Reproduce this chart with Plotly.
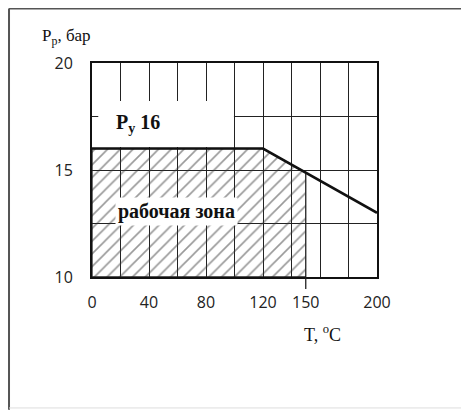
import numpy as np
import plotly.graph_objects as go

# Data
limit_T = [0, 120, 200]          # °C
limit_P = [16, 16, 13]           # bar
work_T_max = 150                 # end of working zone, °C
P_min = 10
x_ticks = [0, 40, 80, 120, 150, 200]
y_ticks = [10, 15, 20]

# Working zone polygon derived from the limit line
P_at_work_max = float(np.interp(work_T_max, limit_T, limit_P))
zone_T = [limit_T[0], limit_T[0], limit_T[1], work_T_max, work_T_max, limit_T[0]]
zone_P = [P_min, limit_P[0], limit_P[1], P_at_work_max, P_min, P_min]

serif = "Liberation Serif"
sans = "Open Sans"
grid_c = "#222222"

fig = go.Figure()
fig.add_trace(go.Scatter(
    x=zone_T, y=zone_P, mode="lines", fill="toself",
    line=dict(color=grid_c, width=1.3),
    fillcolor="rgba(255,255,255,0)",
    fillpattern=dict(shape="/", fgcolor="#333333", bgcolor="rgba(255,255,255,0)",
                     size=9, solidity=0.18),
    hoverinfo="skip", showlegend=False))
fig.add_trace(go.Scatter(
    x=limit_T, y=limit_P, mode="lines",
    line=dict(color="#111111", width=2.5),
    showlegend=False))

fig.update_xaxes(
    range=[0, 200], tickvals=x_ticks, ticktext=[str(v) for v in x_ticks],
    showgrid=False, zeroline=False, ticks="", ticklabelstandoff=10,
    tickfont=dict(family=sans, size=16, color="#222"),
    showline=True, mirror=True, linecolor="#111", linewidth=2,
    minor=dict(tickmode="linear", tick0=0, dtick=20, showgrid=True,
               gridcolor=grid_c, gridwidth=1.3, ticks=""))
fig.update_yaxes(
    range=[10, 20], tickvals=y_ticks, ticktext=[str(v) for v in y_ticks],
    showgrid=True, gridcolor=grid_c, gridwidth=1.3, zeroline=False,
    ticks="", ticklabelstandoff=14,
    tickfont=dict(family=sans, size=16, color="#222"),
    showline=True, mirror=True, linecolor="#111", linewidth=2,
    minor=dict(tickmode="linear", tick0=10, dtick=2.5, showgrid=True,
               gridcolor=grid_c, gridwidth=1.3, ticks=""))

shapes = [
    # white box behind "Py 16"
    dict(type="rect", xref="paper", yref="paper", x0=0.022, x1=0.498, y0=0.607, y1=0.822,
         fillcolor="white", line=dict(width=0), layer="above"),
    # tick below axis at the end of working zone
    dict(type="line", xref="x", yref="paper", x0=work_T_max, x1=work_T_max, y0=-0.056, y1=0,
         line=dict(color=grid_c, width=1.3)),
    # outer frame
    dict(type="line", xref="paper", yref="paper", x0=-0.2912, x1=-0.2912, y0=-0.62, y1=1.255,
         line=dict(color="#555", width=2)),
    dict(type="line", xref="paper", yref="paper", x0=-0.2912, x1=1.32, y0=1.2535, y1=1.2535,
         line=dict(color="#555", width=1.5)),
    dict(type="line", xref="paper", yref="paper", x0=1.319, x1=1.319, y0=-0.62, y1=1.255,
         line=dict(color="#ddd", width=1)),
    dict(type="line", xref="paper", yref="paper", x0=-0.2912, x1=1.32, y0=-0.612, y1=-0.612,
         line=dict(color="#ddd", width=1)),
]

annotations = [
    dict(xref="paper", yref="paper", x=0.161, y=0.715, xanchor="center", yanchor="middle",
         showarrow=False, text="<b>P<sub>у</sub> 16</b>",
         font=dict(family=serif, size=20, color="#111")),
    dict(xref="paper", yref="paper", x=0.296, y=0.305, xanchor="center", yanchor="middle",
         showarrow=False, text="<b>рабочая зона</b>", bgcolor="white", borderpad=2,
         font=dict(family=serif, size=20, color="#111")),
    dict(xref="paper", yref="paper", x=-0.182, y=1.12, xanchor="left", yanchor="middle",
         showarrow=False, text="P<sub>р</sub>, бар",
         font=dict(family=serif, size=17, color="#111")),
    dict(xref="paper", yref="paper", x=0.81, y=-0.262, xanchor="center", yanchor="middle",
         showarrow=False, text="T, <sup>o</sup>C",
         font=dict(family=serif, size=18, color="#111")),
]

# The page body adds an 8px offset; compensate so the plot lands where the reference has it
fig.update_layout(
    width=461, height=402,
    margin=dict(l=84, r=92, t=55, b=133),
    paper_bgcolor="white", plot_bgcolor="white",
    shapes=shapes, annotations=annotations, showlegend=False)

fig.write_html("out.html")
